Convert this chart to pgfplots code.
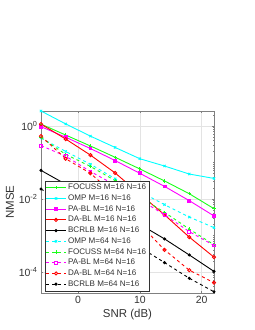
\documentclass[border=0pt]{standalone}
\usepackage{pgfplots}
\pgfplotsset{compat=1.18}
\usepackage{fontspec}
\setmainfont{Liberation Sans}
\definecolor{txt}{rgb}{0.2,0.2,0.2}
\definecolor{ax}{rgb}{0.5,0.5,0.5}
\definecolor{cG}{rgb}{0.1,1,0.1}
\definecolor{cC}{rgb}{0,1,1}
\definecolor{cM}{rgb}{1,0,1}
\definecolor{cR}{rgb}{1,0,0}
\definecolor{cK}{rgb}{0,0,0}
\begin{document}
\begin{tikzpicture}
\path[use as bounding box] (-41bp,-37bp) rectangle (214bp,293bp);
\begin{axis}[
  at={(0,0)}, anchor=south west,
  scale only axis, width=173bp, height=182bp,
  ymode=log,
  xmin=-6, xmax=22,
  ymin=2.606e-5, ymax=2.57,
  xtick={0,10,20}, xticklabels={0,10,20},
  ytick={1,1e-2,1e-4},
  yticklabels={10\textsuperscript{0},10\textsuperscript{-2},10\textsuperscript{-4}},
  minor ytick={3e-5,4e-5,5e-5,6e-5,7e-5,8e-5,9e-5,
    2e-4,3e-4,4e-4,5e-4,6e-4,7e-4,8e-4,9e-4,1e-3,
    2e-3,3e-3,4e-3,5e-3,6e-3,7e-3,8e-3,9e-3,
    2e-2,3e-2,4e-2,5e-2,6e-2,7e-2,8e-2,9e-2,1e-1,
    2e-1,3e-1,4e-1,5e-1,6e-1,7e-1,8e-1,9e-1,2},
  tick align=inside,
  major tick length=2.2bp, minor tick length=1.3bp,
  every tick/.style={ax, line width=0.4pt},
  axis line style={ax, line width=0.5pt},
  grid=major,
  major grid style={gray!22, line width=0.4pt},
  tick label style={font=\fontsize{10.5}{12}\selectfont, text=txt},
  label style={font=\fontsize{11.5}{13}\selectfont, text=txt},
  xlabel={SNR (dB)},
  ylabel={NMSE},
  xlabel style={yshift=2bp},
  ylabel style={yshift=-2bp},
  legend cell align=left,
  legend style={at={(3.7/173,2/182)}, anchor=south west,
    font=\fontsize{8.1}{9}\selectfont, text=txt,
    draw=txt, fill=white, line width=0.5pt,
    inner sep=1bp, row sep=-0.4bp},
  legend image code/.code={
    \draw[mark repeat=2,mark phase=2] plot coordinates {(0cm,0cm) (0.34cm,0cm) (0.68cm,0cm)};},
  every axis plot/.append style={line width=0.9pt, mark size=1.6bp},
]
\addplot[cG, mark=+] coordinates {(-6,1.122) (-2,0.5623) (2,0.2818) (6,0.138) (10,0.0661) (14,0.0309) (18,0.0138) (22,0.00537)};
\addlegendentry{FOCUSS M=16 N=16}
\addplot[cC, mark=x] coordinates {(-6,2.57) (-2,1.135) (2,0.5248) (6,0.257) (10,0.1259) (14,0.0794) (18,0.0479) (22,0.0363)};
\addlegendentry{OMP M=16 N=16}
\addplot[cM, mark=square*, mark size=1.4bp] coordinates {(-6,0.955) (-2,0.4898) (2,0.2399) (6,0.1122) (10,0.0501) (14,0.0219) (18,0.00891) (22,0.00339)};
\addlegendentry{PA-BL M=16 N=16}
\addplot[cR, mark=o] coordinates {(-6,1.122) (-2,0.4365) (2,0.1585) (6,0.0513) (10,0.0135) (14,0.00363) (18,0.000891) (22,0.000251)};
\addlegendentry{DA-BL M=16 N=16}
\addplot[cK, mark=*, mark size=1.1bp] coordinates {(-6,0.0603) (-2,0.0251) (2,0.01072) (6,0.00468) (10,0.002) (14,0.000794) (18,0.000288) (22,0.000102)};
\addlegendentry{BCRLB M=16 N=16}
\addplot[cC, dashed, mark=x, mark options={solid}] coordinates {(-6,0.4677) (-2,0.1995) (2,0.0891) (6,0.0355) (10,0.01585) (14,0.00692) (18,0.00316) (22,0.00162)};
\addlegendentry{OMP M=64 N=16}
\addplot[cG, dashed, mark=+, mark options={solid}] coordinates {(-6,0.4786) (-2,0.166) (2,0.0776) (6,0.0316) (10,0.01122) (14,0.00427) (18,0.00148) (22,0.00055)};
\addlegendentry{FOCUSS M=64 N=16}
\addplot[cM, dashed, mark=square, mark size=1.4bp, mark options={solid}] coordinates {(-6,0.2884) (-2,0.1479) (2,0.0562) (6,0.024) (10,0.00955) (14,0.00363) (18,0.00126) (22,0.000525)};
\addlegendentry{PA-BL M=64 N=16}
\addplot[cR, dashed, mark=o, mark options={solid}] coordinates {(-6,0.5248) (-2,0.1259) (2,0.0501) (6,0.0126) (10,0.002) (14,0.000398) (18,0.00011) (22,0.0000501)};
\addlegendentry{DA-BL M=64 N=16}
\addplot[cK, dashed, mark=*, mark size=1.1bp, mark options={solid}] coordinates {(-6,0.0186) (-2,0.00741) (2,0.00295) (6,0.00117) (10,0.000468) (14,0.000178) (18,0.0000661) (22,0.0000282)};
\addlegendentry{BCRLB M=64 N=16}
\end{axis}
\end{tikzpicture}
\end{document}
